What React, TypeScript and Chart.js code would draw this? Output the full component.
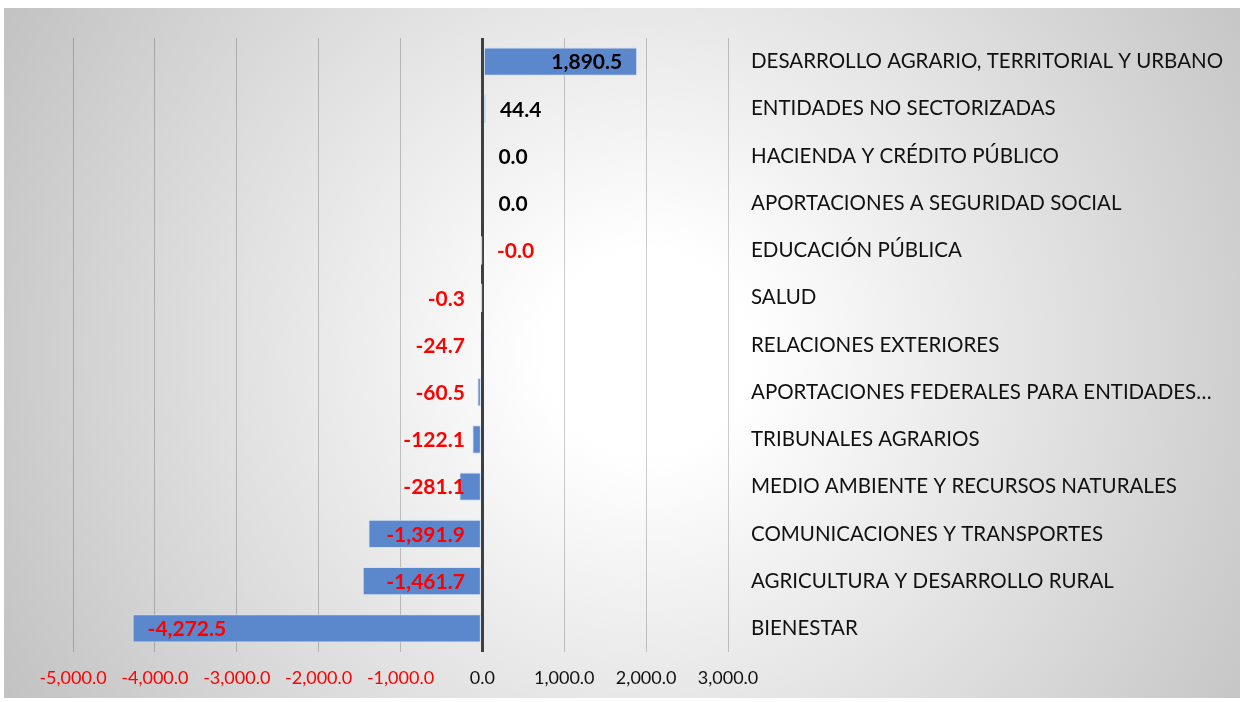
import React, { useEffect, useRef } from "react";
import { Chart, registerables } from "chart.js";

Chart.register(...registerables);

const categories: string[] = [
  "DESARROLLO AGRARIO, TERRITORIAL Y URBANO",
  "ENTIDADES NO SECTORIZADAS",
  "HACIENDA Y CRÉDITO PÚBLICO",
  "APORTACIONES A SEGURIDAD SOCIAL",
  "EDUCACIÓN PÚBLICA",
  "SALUD",
  "RELACIONES EXTERIORES",
  "APORTACIONES FEDERALES PARA ENTIDADES…",
  "TRIBUNALES AGRARIOS",
  "MEDIO AMBIENTE Y RECURSOS NATURALES",
  "COMUNICACIONES Y TRANSPORTES",
  "AGRICULTURA Y DESARROLLO RURAL",
  "BIENESTAR",
];

const values: number[] = [
  1890.5, 44.4, 0.0, 0.0, -0.02, -0.3, -24.7, -60.5, -122.1, -281.1, -1391.9, -1461.7, -4272.5,
];

const xMin = -5000;
const xMax = 3000;
const xStep = 1000;

const fmt = (v: number) =>
  v.toLocaleString("en-US", { minimumFractionDigits: 1, maximumFractionDigits: 1 });

const LABEL_FONT = "Lato, 'Noto Sans', sans-serif";

const dataLabelPlugin = {
  id: "dataLabels",
  afterDatasetsDraw(chart: any) {
    const ctx = chart.ctx;
    const meta = chart.getDatasetMeta(0);
    const data = chart.data.datasets[0].data as number[];
    ctx.save();
    ctx.font = `bold 21px ${LABEL_FONT}`;
    ctx.textBaseline = "middle";
    meta.data.forEach((bar: any, i: number) => {
      const v = data[i];
      const text = fmt(v);
      const w = ctx.measureText(text).width;
      const len = Math.abs(bar.x - bar.base);
      ctx.fillStyle = v < 0 ? "#ff0000" : "#000000";
      let x: number;
      if (v >= 0 || Math.abs(v) < 0.05) {
        if (len > w + 30) {
          ctx.textAlign = "right";
          x = bar.x - 15;
        } else {
          ctx.textAlign = "left";
          x = bar.base + 16;
        }
      } else if (len > 300) {
        ctx.textAlign = "left";
        x = bar.x + 15;
      } else {
        ctx.textAlign = "right";
        x = bar.base - 16;
      }
      ctx.fillText(text, x, bar.y + 1);
    });
    ctx.restore();
  },
};

export default function App() {
  const ref = useRef<HTMLCanvasElement | null>(null);
  useEffect(() => {
    if (!ref.current) return;
    const chart = new Chart(ref.current, {
      type: "bar",
      data: {
        labels: categories,
        datasets: [
          {
            data: values,
            backgroundColor: "#5b87cc",
            borderColor: "rgba(210,225,245,0.9)",
            borderWidth: 1,
            borderSkipped: false,
            categoryPercentage: 1,
            barPercentage: 0.6,
          },
        ],
      },
      options: {
        indexAxis: "y",
        animation: false,
        responsive: true,
        maintainAspectRatio: false,
        layout: { padding: { left: 69, top: 30, right: 0, bottom: 0 } },
        plugins: {
          legend: { display: false },
          tooltip: { enabled: false },
        },
        scales: {
          x: {
            min: xMin,
            max: xMax,
            ticks: {
              stepSize: xStep,
              padding: 15,
              font: { family: LABEL_FONT, size: 18 },
              color: (c: any) => (c.tick.value < 0 ? "#ff0000" : "#111111"),
              callback: (v: any) => fmt(Number(v)),
            },
            grid: {
              drawTicks: false,
              color: (c: any) => (c.tick && c.tick.value === 0 ? "#404040" : "rgba(0,0,0,0.2)"),
              lineWidth: (c: any) => (c.tick && c.tick.value === 0 ? 3 : 1),
            },
            border: { display: false },
            afterFit: (s: any) => {
              s.height = 46;
            },
          },
          y: {
            position: "right",
            grid: { display: false, drawTicks: false },
            border: { display: false },
            ticks: {
              crossAlign: "near",
              padding: 23,
              color: "#111111",
              font: { family: LABEL_FONT, size: 20.5 },
              autoSkip: false,
            },
            afterFit: (s: any) => {
              s.width = 512;
              s.paddingTop = 0;
              s.paddingBottom = 0;
            },
          },
        },
      },
      plugins: [dataLabelPlugin],
    } as any);
    return () => chart.destroy();
  }, []);

  return (
    <div
      style={{
        position: "absolute",
        left: 4,
        top: 8,
        width: 1236,
        height: 690,
        background:
          "radial-gradient(circle farthest-corner at 52% 50%, #ffffff 0%, #ffffff 14%, #c2c2c2 100%)",
      }}
    >
      <canvas ref={ref} style={{ width: "100%", height: "100%" }} />
    </div>
  );
}
